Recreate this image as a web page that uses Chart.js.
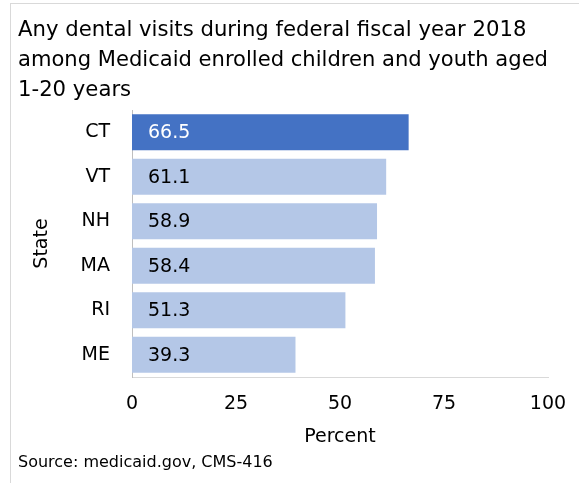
<!DOCTYPE html>
<html>
<head>
<meta charset="utf-8">
<script src="https://cdn.jsdelivr.net/npm/chart.js@4.4.1/dist/chart.umd.min.js"></script>
<style>
    html, body { margin: 0; padding: 0; background: #fff; overflow: hidden; }
    #frame { position: absolute; left: 10px; top: 3px; width: 600px; height: 520px; border: 1px solid #d9d9d9; }
    #wrap { position: absolute; left: 0; top: 0; width: 579px; height: 483px; }
</style>
</head>
<body>
<div id="frame"></div>
<div id="wrap"><canvas id="chart" width="579" height="483"></canvas></div>
<script>
const states = ['CT', 'VT', 'NH', 'MA', 'RI', 'ME'];
const visitRates = [66.5, 61.1, 58.9, 58.4, 51.3, 39.3];
const titleLines = [
    'Any dental visits during federal fiscal year 2018',
    'among Medicaid enrolled children and youth aged',
    '1-20 years'
];
const sourceNote = 'Source: medicaid.gov, CMS-416';

const FONT = "'DejaVu Sans', sans-serif";
const barColors = states.map((s, i) => i === 0 ? '#4472c4' : '#b4c7e7');

// numbers written inside each bar, near its left end
const barValues = {
    id: 'barValues',
    afterDatasetsDraw(chart) {
        const ctx = chart.ctx;
        const meta = chart.getDatasetMeta(0);
        ctx.save();
        ctx.font = '19px ' + FONT;
        ctx.textAlign = 'left';
        ctx.textBaseline = 'middle';
        meta.data.forEach((bar, i) => {
            ctx.fillStyle = i === 0 ? '#ffffff' : '#000000';
            ctx.fillText(visitRates[i].toFixed(1), bar.base + 16, bar.y + 1);
        });
        ctx.restore();
    }
};

const ctx = document.getElementById('chart').getContext('2d');
new Chart(ctx, {
    type: 'bar',
    data: {
        labels: states,
        datasets: [{
            data: visitRates,
            backgroundColor: barColors,
            borderWidth: 0,
            categoryPercentage: 1,
            barPercentage: 0.81
        }]
    },
    options: {
        indexAxis: 'y',
        responsive: false,
        animation: false,
        layout: { padding: { left: 18, right: 31, top: 0, bottom: 0 } },
        scales: {
            x: {
                min: 0,
                max: 100,
                ticks: { stepSize: 25, color: '#000', padding: 16, font: { family: FONT, size: 19 } },
                grid: { display: false, drawTicks: false },
                border: { display: true, color: '#d9d9d9', width: 1 },
                title: { display: true, text: 'Percent', color: '#000', padding: { top: 0, bottom: 5 }, font: { family: FONT, size: 19 } },
                afterFit(scale) {
                    scale.height = 76;
                    scale.paddingLeft = 0;
                    scale.paddingRight = 0;
                }
            },
            y: {
                ticks: { color: '#000', padding: 22, font: { family: FONT, size: 19 } },
                grid: { display: false, drawTicks: false },
                border: { display: true, color: '#bfbfbf', width: 1 },
                title: { display: true, text: 'State', color: '#000', padding: { top: 13, bottom: 0 }, font: { family: FONT, size: 19 } },
                afterFit(scale) { scale.width = 114; }
            }
        },
        plugins: {
            legend: { display: false },
            tooltip: { enabled: false },
            title: {
                display: true,
                text: titleLines,
                align: 'start',
                color: '#000',
                padding: { top: 15, bottom: 5 },
                font: { family: FONT, size: 21.2, weight: 'normal', lineHeight: '30px' }
            },
            subtitle: {
                display: true,
                text: sourceNote,
                position: 'bottom',
                align: 'start',
                color: '#000',
                padding: { top: 0, bottom: 10 },
                font: { family: FONT, size: 16, lineHeight: '20px' }
            }
        }
    },
    plugins: [barValues]
});
</script>
</body>
</html>
